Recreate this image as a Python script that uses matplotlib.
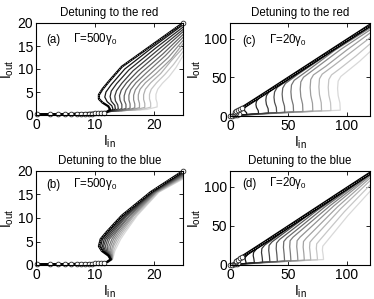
import matplotlib
matplotlib.use('Agg')
import matplotlib.pyplot as plt
import numpy as np

plt.rcParams['font.family'] = ['Liberation Sans', 'DejaVu Sans']
plt.rcParams['mathtext.default'] = 'regular'

titles = ['Detuning to the red', 'Detuning to the blue', 'Detuning to the red', 'Detuning to the blue']
panel_labels = ['(a)', '(b)', '(c)', '(d)']
gamma_labels = ['Γ=500γ$_0$', 'Γ=500γ$_0$', 'Γ=20γ$_0$', 'Γ=20γ$_0$']

# ---- panel (a): red detuning, Gamma = 500 gamma0 (curve 0 = black) ----
a_in = [
    [0, 6, 10, 12.0, 12.6, 12.3, 11.3, 10.7, 10.7, 11.3, 12.4, 14.6, 25],
    [0, 6, 10, 12.3, 13.1, 12.9, 12.1, 11.7, 11.9, 12.8, 15.1, 20.0, 25],
    [0, 6, 10, 12.6, 13.5, 13.4, 12.8, 12.6, 12.8, 13.7, 15.8, 20.4, 25],
    [0, 6, 10, 13.0, 14.0, 13.9, 13.5, 13.4, 13.7, 14.6, 16.5, 20.8, 25],
    [0, 6, 10, 13.5, 14.6, 14.6, 14.3, 14.2, 14.5, 15.4, 17.3, 21.2, 25],
    [0, 6, 10, 14.0, 15.3, 15.3, 15.0, 15.0, 15.3, 16.2, 18.0, 21.6, 25],
    [0, 6, 10, 14.6, 16.0, 16.0, 15.8, 15.8, 16.1, 17.0, 18.8, 22.0, 25],
    [0, 6, 10, 15.3, 16.8, 16.8, 16.6, 16.6, 16.9, 17.8, 19.6, 22.5, 25],
    [0, 6, 10, 16.0, 17.6, 17.6, 17.4, 17.4, 17.7, 18.6, 20.4, 23.0, 25],
    [0, 6, 10, 16.8, 18.5, 18.5, 18.3, 18.3, 18.6, 19.5, 21.2, 23.0, 25],
    [0, 6, 10, 17.8, 19.5, 19.5, 19.3, 19.3, 19.6, 20.5, 21.9, 23.4, 25],
    [0, 6, 10, 18.8, 20.6, 20.6, 20.4, 20.4, 20.7, 21.5, 22.6, 23.8, 25],
]
a_out = [
    [0.15, 0.2, 0.35, 0.6, 1.2, 1.9, 2.7, 3.5, 4.4, 5.6, 7.3, 10.5, 20.0],
    [0.15, 0.22, 0.4, 0.7, 1.25, 2.0, 2.9, 3.9, 5.0, 6.6, 10.0, 14.9, 19.6],
    [0.15, 0.23, 0.45, 0.75, 1.3, 2.1, 3.0, 4.0, 5.2, 6.8, 9.8, 14.6, 19.1],
    [0.15, 0.24, 0.5, 0.8, 1.35, 2.2, 3.1, 4.1, 5.3, 6.9, 9.6, 14.2, 18.6],
    [0.15, 0.25, 0.52, 0.85, 1.4, 2.3, 3.2, 4.2, 5.4, 7.0, 9.5, 13.8, 18.1],
    [0.15, 0.26, 0.55, 0.9, 1.45, 2.3, 3.2, 4.2, 5.4, 7.0, 9.3, 13.3, 17.5],
    [0.15, 0.27, 0.58, 0.95, 1.5, 2.4, 3.3, 4.3, 5.5, 7.0, 9.2, 12.9, 16.9],
    [0.15, 0.28, 0.6, 1.0, 1.55, 2.4, 3.3, 4.3, 5.5, 7.0, 9.1, 12.5, 16.2],
    [0.15, 0.29, 0.62, 1.05, 1.6, 2.5, 3.4, 4.4, 5.6, 7.0, 9.0, 12.2, 15.5],
    [0.15, 0.3, 0.65, 1.1, 1.65, 2.5, 3.4, 4.4, 5.6, 7.0, 9.0, 11.8, 14.6],
    [0.15, 0.31, 0.68, 1.15, 1.7, 2.6, 3.5, 4.5, 5.6, 7.0, 8.8, 11.0, 13.8],
    [0.15, 0.32, 0.7, 1.2, 1.75, 2.6, 3.5, 4.5, 5.6, 6.9, 8.3, 10.3, 12.9],
]
a_mk_in = [0.2, 2.4, 3.8, 5.0, 6.0, 6.9, 7.7, 8.4, 9.0, 9.6, 10.1, 10.6, 11.1, 11.5, 25]
a_mk_out = [0.15, 0.16, 0.17, 0.18, 0.2, 0.22, 0.24, 0.26, 0.28, 0.3, 0.33, 0.37, 0.42, 0.48, 20]

# ---- panel (b): blue detuning, Gamma = 500 gamma0 ----
b_in = [
    [0, 6, 10, 12.0, 12.7, 12.3, 11.2, 10.7, 11.0, 12.0, 14.6, 19.5, 25],
    [0, 6, 10, 12.0, 12.7, 12.4, 11.4, 11.0, 11.3, 12.3, 14.8, 19.6, 25],
    [0, 6, 10, 12.1, 12.8, 12.5, 11.6, 11.3, 11.6, 12.6, 15.1, 19.8, 25],
    [0, 6, 10, 12.1, 12.8, 12.5, 11.8, 11.5, 11.9, 12.9, 15.3, 19.9, 25],
    [0, 6, 10, 12.1, 12.8, 12.6, 12.0, 11.8, 12.2, 13.2, 15.5, 20.0, 25],
    [0, 6, 10, 12.1, 12.8, 12.7, 12.2, 12.1, 12.5, 13.5, 15.8, 20.1, 25],
    [0, 6, 10, 12.2, 12.9, 12.8, 12.4, 12.4, 12.9, 13.7, 16.0, 20.3, 25],
    [0, 6, 10, 12.2, 12.9, 12.9, 12.6, 12.7, 13.2, 14.0, 16.3, 20.4, 25],
    [0, 6, 10, 12.2, 12.9, 13.0, 12.8, 13.0, 13.5, 14.3, 16.5, 20.5, 25],
    [0, 6, 10, 12.2, 12.9, 13.0, 13.0, 13.2, 13.8, 14.6, 16.7, 20.6, 25],
    [0, 6, 10, 12.3, 13.0, 13.1, 13.2, 13.5, 14.1, 14.9, 17.0, 20.8, 25],
    [0, 6, 10, 12.3, 13.0, 13.2, 13.4, 13.8, 14.4, 15.2, 17.2, 20.9, 25],
]
b_out_common = [0.15, 0.2, 0.35, 0.6, 1.2, 2.0, 3.0, 4.0, 5.5, 7.0, 10.5, 15.5]
b_out_end = [20.0, 19.8, 19.7, 19.5, 19.4, 19.2, 19.1, 18.9, 18.8, 18.6, 18.5, 18.3]
b_out = [b_out_common + [e] for e in b_out_end]
b_mk_in = [0.2, 2.4, 3.8, 5.0, 6.0, 6.9, 7.7, 8.4, 9.0, 9.6, 10.1, 10.6, 11.1, 11.5, 25]
b_mk_out = [0.15, 0.16, 0.17, 0.18, 0.2, 0.22, 0.24, 0.26, 0.28, 0.3, 0.33, 0.37, 0.42, 0.48, 20]

# ---- panel (c): red detuning, Gamma = 20 gamma0 ----
c_in = [
    [0, 3, 7, 7.5, 5.5, 4.5, 5, 8, 30, 60, 90, 120],
    [0, 6.5, 14.5, 14.2, 12.7, 12.2, 12.7, 15, 25, 60, 120],
    [0, 11.5, 24.5, 24.2, 22.7, 22.2, 22.7, 25, 33, 70, 120],
    [0, 15.7, 33, 32.7, 31.2, 30.7, 31.2, 33.5, 42, 75, 120],
    [0, 19.2, 40, 39.7, 38.2, 37.7, 38.2, 40.5, 50, 80, 120],
    [0, 22.7, 47, 46.7, 45.2, 44.7, 45.2, 47.5, 58, 85, 120],
    [0, 26.5, 54.5, 54.2, 52.7, 52.2, 52.7, 55, 66, 90, 120],
    [0, 30.5, 62.5, 62.2, 60.7, 60.2, 60.7, 63, 75, 95, 120],
    [0, 34.7, 71, 70.7, 69.2, 68.7, 69.2, 71.5, 82, 100, 120],
    [0, 38.5, 78.5, 78.2, 76.7, 76.2, 76.7, 79, 88, 104, 120],
    [0, 42.5, 86.5, 86.2, 84.7, 84.2, 84.7, 87, 95, 108, 120],
    [0, 46.5, 94.5, 94.2, 92.7, 92.2, 92.7, 95, 102, 111, 120],
]
c_out = [
    [0, 0.8, 2, 3, 4, 5, 6, 8, 29.2, 58.5, 87.8, 117],
    [0, 1.1, 2.0, 4.3, 6.5, 8.8, 11.0, 14.5, 24, 58.3, 117],
    [0, 1.6, 3.0, 7, 11, 15, 19, 23.5, 31.5, 68, 117],
    [0, 2.0, 3.7, 9.3, 14.9, 20.4, 26, 31.5, 40, 73, 116.5],
    [0, 2.4, 4.3, 11, 17.7, 24.3, 31, 37, 46.5, 77, 116],
    [0, 2.6, 4.8, 12.6, 20.4, 28.2, 36, 42, 53.5, 81, 115],
    [0, 2.9, 5.3, 14, 22.7, 31.3, 40, 46, 58, 85, 113.5],
    [0, 3.2, 5.8, 15.4, 24.9, 34.5, 44, 50, 63.5, 86, 111],
    [0, 3.5, 6.3, 16.5, 26.7, 36.8, 47, 53, 64, 85, 107],
    [0, 3.7, 6.7, 17, 27.4, 37.7, 48, 54, 64, 82.5, 101],
    [0, 3.9, 7.1, 17, 27, 37, 47, 53, 62, 77.5, 93],
    [0, 4.1, 7.5, 16.9, 26.3, 35.6, 45, 51, 59.5, 70.5, 83],
]
c_mk_in = [0, 1.5, 3, 4.5, 6, 7.5, 5.5, 4.5, 5.5, 7, 8.5, 10]
c_mk_out = [0, 0.4, 0.8, 1.3, 1.8, 2.6, 4, 5, 6.2, 7.4, 8.6, 9.8]

# ---- panel (d): blue detuning, Gamma = 20 gamma0 ----
d_in = [
    [0, 3, 6.5, 6.5, 5.0, 5.2, 8, 30, 60, 90, 120],
    [0, 6.3, 13.9, 13.5, 12.9, 13.2, 15.7, 40, 120],
    [0, 9.8, 20.9, 20.5, 19.9, 20.2, 22.7, 50, 120],
    [0, 13.4, 28.0, 27.6, 27.0, 27.3, 29.8, 55, 120],
    [0, 16.5, 34.2, 33.8, 33.2, 33.5, 36.0, 65, 120],
    [0, 19.7, 40.6, 40.2, 39.6, 39.9, 42.4, 75, 120],
    [0, 22.8, 46.8, 46.4, 45.8, 46.1, 48.6, 82, 120],
    [0, 25.5, 52.2, 51.8, 51.2, 51.5, 54.0, 86, 120],
    [0, 28.5, 58.2, 57.8, 57.2, 57.5, 60.0, 89, 120],
    [0, 31.2, 63.7, 63.3, 62.7, 63.0, 65.5, 92, 120],
    [0, 34.0, 69.2, 68.8, 68.2, 68.5, 71.0, 95, 120],
    [0, 36.9, 75.0, 74.6, 74.0, 74.3, 76.8, 98, 120],
    [0, 39.5, 80.2, 79.8, 79.2, 79.5, 82.0, 101, 120],
]
d_out = [
    [0, 0.8, 1.8, 3, 4.5, 5.5, 8, 29.2, 58.5, 87.8, 117],
    [0, 1.1, 2.0, 4.8, 7.6, 10, 14.5, 38.5, 117],
    [0, 1.5, 2.8, 7.4, 12, 16, 20.5, 48.5, 117],
    [0, 1.9, 3.5, 9.6, 15.8, 21, 25.5, 52.5, 117],
    [0, 2.2, 4.0, 11.4, 18.7, 25, 29.5, 61.5, 117],
    [0, 2.5, 4.5, 12.7, 21, 28, 32.5, 70, 116.5],
    [0, 2.8, 5.0, 13.8, 22.5, 30, 34.5, 75, 116],
    [0, 3.0, 5.4, 14.4, 23.3, 31, 35.5, 76, 115],
    [0, 3.2, 5.8, 14.6, 23.4, 31, 35.5, 75.5, 113.5],
    [0, 3.4, 6.1, 14.5, 22.8, 30, 34.5, 74, 111],
    [0, 3.5, 6.4, 14.3, 22.2, 29, 33.5, 72, 107.5],
    [0, 3.7, 6.7, 13.8, 20.9, 27, 31.5, 68, 102],
    [0, 3.9, 7.0, 13.0, 18.9, 24, 28.5, 63, 94],
]
d_mk_in = [0, 1.5, 3, 4.5, 6, 6.5, 5.0, 5.5, 7, 8.5, 10]
d_mk_out = [0, 0.4, 0.8, 1.2, 1.6, 2.6, 4.2, 5.5, 7, 8.4, 9.8]

W, H = 374, 299
fig = plt.figure(figsize=(W / 100, H / 100), dpi=100)


def add_ax(l, t, r, b):
    return fig.add_axes([l / W, 1 - b / H, (r - l) / W, (b - t) / H])


rects = [(36, 23, 183, 115), (36, 171, 183, 265), (230, 23, 370, 116), (230, 171, 370, 265)]
data = [(a_in, a_out, a_mk_in, a_mk_out, 6), (b_in, b_out, b_mk_in, b_mk_out, 6),
        (c_in, c_out, c_mk_in, c_mk_out, 7), (d_in, d_out, d_mk_in, d_mk_out, 6)]
limits = [(25, 20), (25, 20), (120, 120), (120, 120)]
xticks = [[0, 10, 20], [0, 10, 20], [0, 50, 100], [0, 50, 100]]
yticks = [[0, 5, 10, 15, 20], [0, 5, 10, 15, 20], [0, 50, 100], [0, 50, 100]]
label_pos = [(0.07, 0.82), (0.07, 0.85), (0.086, 0.81), (0.086, 0.86)]
gamma_x = [0.25, 0.25, 0.276, 0.276]

for i in range(4):
    ax = add_ax(*rects[i])
    cin, cout, mkin, mkout, up = data[i]
    n = len(cin)
    grays = np.linspace(0.0, 0.85, n)
    for k in reversed(range(n)):
        lw = 1.6 if k == 0 else 0.9
        if k == 0 and i >= 2:
            lw = 2.4
        ax.plot(cin[k], cout[k], color=str(grays[k]), lw=lw, solid_joinstyle='round')
    ax.plot(cin[0][up:], cout[0][up:], color='white', lw=0.6, ls=(0, (0.7, 1.8)))
    ax.plot(mkin, mkout, 'o', ms=3.4, mfc='white', mec='0.15', mew=0.6, clip_on=False)
    ax.set_xlim(0, limits[i][0])
    ax.set_ylim(0, limits[i][1])
    ax.set_xticks(xticks[i])
    ax.set_yticks(yticks[i])
    ax.tick_params(direction='in', length=3, width=0.6, top=True, right=True,
                   labelsize=10, pad=2)
    for s in ax.spines.values():
        s.set_linewidth(0.8)
    ax.set_title(titles[i], fontsize=8.3, pad=5)
    ax.set_xlabel('I$_{in}$', fontsize=10, labelpad=1)
    ax.set_ylabel('I$_{out}$', fontsize=10, labelpad=1)
    lx, ly = label_pos[i]
    ax.text(lx, ly, panel_labels[i], transform=ax.transAxes, fontsize=8.3, va='center')
    ax.text(gamma_x[i], ly + 0.01, gamma_labels[i], transform=ax.transAxes, fontsize=8.3,
            va='center')

fig.savefig('out.png', dpi=100)
